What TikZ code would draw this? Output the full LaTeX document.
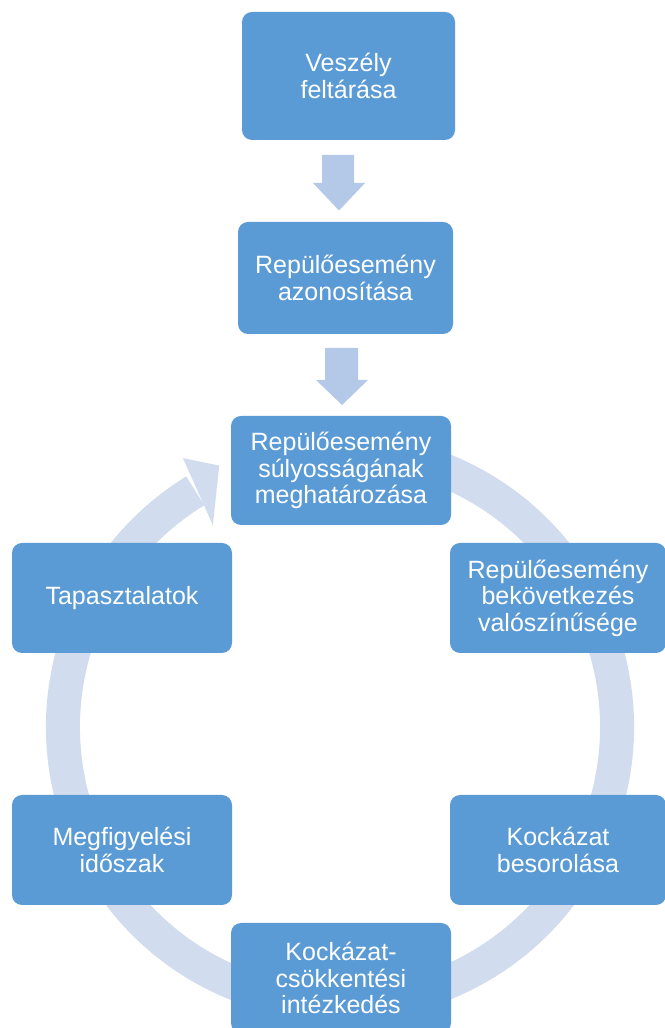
\documentclass[tikz,border=0pt]{standalone}
\usepackage{fontspec}
\setmainfont{Liberation Sans}
\definecolor{boxblue}{HTML}{5B9BD5}
\definecolor{arrowblue}{HTML}{B4C8E8}
\definecolor{ringblue}{HTML}{D1DCEE}
\begin{document}
\begin{tikzpicture}[x=1pt,y=1pt,
  box/.style={draw=none, fill=boxblue, rounded corners=10pt, text=white, align=center,
    font=\fontsize{25}{26.5}\selectfont, inner sep=0pt},
  downarrow/.style={fill=arrowblue},
  ring/.style={draw=ringblue, line width=34pt, line cap=butt}]
\useasboundingbox (0,0) rectangle (664,1028);
\fill[white] (0,0) rectangle (664,1028);
% cycle ring
\coordinate (rc) at (340,301);
\draw[ring] ([shift={(70:277)}]rc) arc[start angle=70, end angle=-238.5, radius=277];
\fill[ringblue] ([shift={(120.3:311.5)}]rc) -- ([shift={(114.8:288)}]rc) -- ([shift={(122.2:238.6)}]rc) -- cycle;
% boxes
\node[box, minimum width=213pt, minimum height=128pt] (b1) at (348.5,952) {Veszély\\feltárása};
\node[box, minimum width=215pt, minimum height=112pt] (b2) at (345.5,750) {Repülőesemény\\azonosítása};
\node[box, minimum width=220pt, minimum height=109pt] (b3) at (341,557.5) {Repülőesemény\\súlyosságának\\meghatározása};
\node[box, minimum width=216pt, minimum height=110pt] (b4) at (558,430) {Repülőesemény\\bekövetkezés\\valószínűsége};
\node[box, minimum width=220pt, minimum height=110pt] (b5) at (122,430) {Tapasztalatok};
\node[box, minimum width=216pt, minimum height=110pt] (b6) at (558,178) {Kockázat\\besorolása};
\node[box, minimum width=220pt, minimum height=110pt] (b7) at (122,178) {Megfigyelési\\időszak};
\node[box, minimum width=220pt, minimum height=110pt] (b8) at (341,50) {Kockázat-\\csökkentési\\intézkedés};
% down arrows between b1-b2 and b2-b3
\fill[downarrow] (322,873) -- (354,873) -- (354,845) -- (365,845) -- (339,817.5) -- (313,845) -- (322,845) -- cycle;
\fill[downarrow] (325,680) -- (358,680) -- (358,648) -- (368,648) -- (342,623) -- (316,648) -- (325,648) -- cycle;
\end{tikzpicture}
\end{document}
